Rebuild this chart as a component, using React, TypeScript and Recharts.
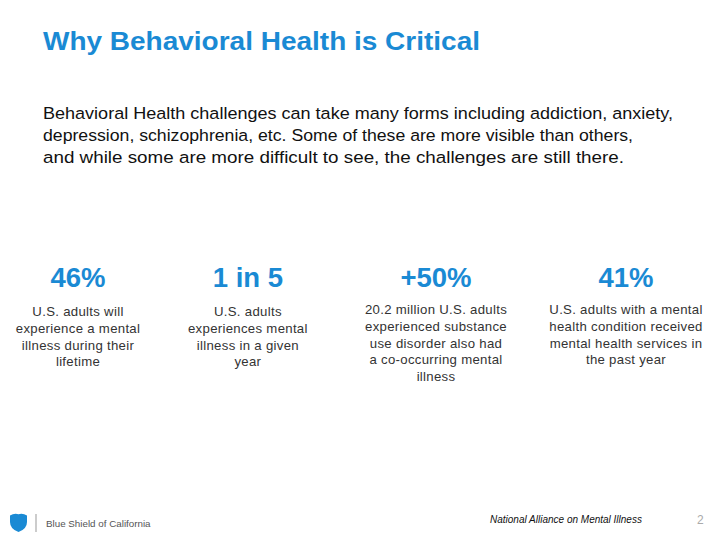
import React from 'react';
import { ScatterChart, Scatter, XAxis, YAxis } from 'recharts';

const titleText = 'Why Behavioral Health is Critical';
const introLines = [
  'Behavioral Health challenges can take many forms including addiction, anxiety,',
  'depression, schizophrenia, etc. Some of these are more visible than others,',
  'and while some are more difficult to see, the challenges are still there.',
];
const introLineWidths = [630, 590, 581];
const statValues = ['46%', '1 in 5', '+50%', '41%'];
const statSlots = [0, 0.93, 1.96, 3];
const statCaptions = [
  ['U.S. adults will', 'experience a mental', 'illness during their', 'lifetime'],
  ['U.S. adults', 'experiences mental', 'illness in a given', 'year'],
  ['20.2 million U.S. adults', 'experienced substance', 'use disorder also had', 'a co-occurring mental', 'illness'],
  ['U.S. adults with a mental', 'health condition received', 'mental health services in', 'the past year'],
];
const captionTop = [316, 316, 314, 314];
const brandText = 'Blue Shield of California';
const sourceText = 'National Alliance on Mental Illness';
const pageNumber = '2';

const data = statValues.map((v, i) => ({
  slot: statSlots[i],
  y: 0,
  value: v,
  caption: statCaptions[i],
  top: captionTop[i],
}));

const BLUE = '#1a8ad4';
const FONT = '"Liberation Sans", Arial, sans-serif';

const StatShape = (props: any) => {
  const { cx, payload } = props;
  return (
    <g>
      <text x={cx} y={286.5} textAnchor="middle" fontFamily={FONT} fontWeight="bold" fontSize={27.5} fill={BLUE}>
        {payload.value}
      </text>
      {payload.caption.map((line: string, j: number) => (
        <text key={j} x={cx} y={payload.top + j * 16.8} textAnchor="middle" fontFamily={FONT} fontSize={13.2} letterSpacing={0.3} fill="#333">
          {line}
        </text>
      ))}
    </g>
  );
};

export default function App() {
  return (
    <div style={{ position: 'absolute', left: 0, top: 0, width: 720, height: 540, background: '#fff' }}>
      <ScatterChart width={720} height={540} margin={{ top: 0, right: 94, bottom: 0, left: 78 }}>
        <XAxis type="number" dataKey="slot" domain={[0, 3]} hide />
        <YAxis type="number" dataKey="y" domain={[0, 1]} hide />
        <Scatter data={data} shape={StatShape} isAnimationActive={false} />
      </ScatterChart>
      <svg width={720} height={540} style={{ position: 'absolute', left: 0, top: 0, pointerEvents: 'none' }}>
        <text x={43} y={50} fontFamily={FONT} fontWeight="bold" fontSize={25} fill={BLUE} textLength={437} lengthAdjust="spacingAndGlyphs">
          {titleText}
        </text>
        {introLines.map((l, i) => (
          <text key={i} x={43} y={119 + i * 22} fontFamily={FONT} fontSize={16.3} fill="#111" textLength={introLineWidths[i]} lengthAdjust="spacingAndGlyphs">
            {l}
          </text>
        ))}
        <path d="M10,515.5 Q14,513 18.5,514.2 Q23,513 27,515.5 L27,522 Q27,529 18.5,532 Q10,529 10,522 Z" fill={BLUE} />
        <line x1={36} y1={514} x2={36} y2={532} stroke="#999" strokeWidth={1} />
        <text x={46} y={527} fontFamily={FONT} fontSize={9.8} fill="#555">
          {brandText}
        </text>
        <text x={490} y={523} fontFamily={FONT} fontStyle="italic" fontSize={10} fill="#111">
          {sourceText}
        </text>
        <text x={697} y={524} fontFamily={FONT} fontSize={12} fill="#aaa">
          {pageNumber}
        </text>
      </svg>
    </div>
  );
}
